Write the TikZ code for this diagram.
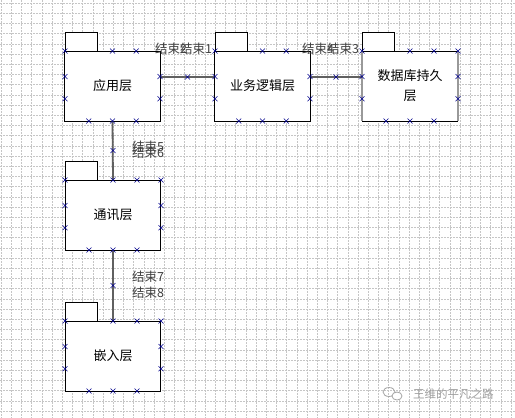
\documentclass[tikz,border=0pt]{standalone}
\usepackage{fontspec}
\newfontfamily\cjk{Noto Sans CJK SC}
\begin{document}
\begin{tikzpicture}[x=1pt,y=-1pt,
  gridl/.style={draw=gray!45,line width=0.5pt,dash pattern=on 1.5pt off 1.5pt},
  pkg/.style={draw=black,line width=0.9pt,fill=white,minimum width=95.5pt,minimum height=70pt,inner sep=0pt,align=center,font=\cjk\fontsize{13}{20}\selectfont},
  tabbox/.style={draw=black,line width=0.9pt,fill=white},
  conn/.style={draw=gray!75!black,line width=1.8pt},
  lbl/.style={inner sep=0pt,anchor=west,text=black!75,font=\cjk\fontsize{12.5}{14}\selectfont},
  xm/.style={draw=blue!55!black,line width=0.6pt}]
\useasboundingbox (0,0) rectangle (515,418);
\fill[white] (0,0) rectangle (515,418);
% grid
\foreach \i in {0,...,50} {
  \draw[gridl] (\i*10.2+1,0) -- (\i*10.2+1,418);
}
\foreach \i in {0,...,41} {
  \draw[gridl] (0,\i*10.2+3) -- (515,\i*10.2+3);
}
% tabs
\foreach \L/\T in {65/51,215/51,362/51,65/180,65/321} {
  \draw[tabbox] (\L,\T) -- (\L,\T-19) -- (\L+32,\T-19) -- (\L+32,\T);
}
% packages
\node[pkg] (b1) at (112.5,86) {应用层};
\node[pkg] (b2) at (262.5,86) {业务逻辑层};
\node[pkg] (b3) at (410,86) {数据库持久\\层};
\node[pkg] (b4) at (113,215) {通讯层};
\node[pkg] (b5) at (113,356) {嵌入层};
\draw[gray!80,line width=1.6pt] (b3.north west) -- (b3.south west);
\draw[gray!80,line width=1.6pt] (b3.north east) -- (b3.south east);
% connectors
\draw[conn] ([yshift=9pt]b1.east) -- ([yshift=9pt]b2.west);
\draw[conn] ([yshift=9pt]b2.east) -- ([yshift=9pt]b3.west);
\draw[conn] (b1.south) -- (b4.north);
\draw[conn] (b4.south) -- (b5.north);
% end labels
\node[lbl] (l2) at (155,49) {结束2};
\node[lbl] (l1) at (180,49) {结束1};
\node[lbl] (l4) at (302,49) {结束4};
\node[lbl] (l3) at (327,49) {结束3};
\node[lbl] (l5) at (132,147) {结束5};
\node[lbl] (l6) at (132,153) {结束6};
\node[lbl] (l7) at (132,277) {结束7};
\node[lbl] (l8) at (132,293) {结束8};
% connection point markers
\foreach \L/\T/\R/\B in {65/51/160/121,215/51/310/121,362/51/458/121,65/180/161/250,65/321/161/391} {
  \foreach \px/\py in {{\L}/{\T},{0.5*(\L+\R)}/{\T},{\L+0.75*(\R-\L)}/{\T},
      {\L+0.25*(\R-\L)}/{\B},{0.5*(\L+\R)}/{\B},{\L+0.75*(\R-\L)}/{\B},
      {\L}/{\T+0.5*(\B-\T+19)-19},{\L}/{\T+0.75*(\B-\T+19)-19},
      {\R}/{\T+0.5*(\B-\T+19)-19},{\R}/{\T+0.75*(\B-\T+19)-19}} {
    \draw[xm] ({\px-2.5},{\py-2.5}) -- ({\px+2.5},{\py+2.5}) ({\px-2.5},{\py+2.5}) -- ({\px+2.5},{\py-2.5});
  }
}
\foreach \px/\py in {458/51,161/180,161/321,187.5/77,336/77,113/150.5,113/285.5} {
  \draw[xm] ({\px-2.5},{\py-2.5}) -- ({\px+2.5},{\py+2.5}) ({\px-2.5},{\py+2.5}) -- ({\px+2.5},{\py-2.5});
}
% watermark
\draw[gray!70,line width=0.8pt] (389,392) ellipse (6 and 4.5);
\draw[gray!70,line width=0.8pt,fill=white] (397,396) ellipse (5 and 4);
\node[inner sep=0pt,anchor=west,text=gray!75,font=\cjk\fontsize{11.5}{13}\selectfont] (wm) at (413,394) {王维的平凡之路};
\end{tikzpicture}
\end{document}
